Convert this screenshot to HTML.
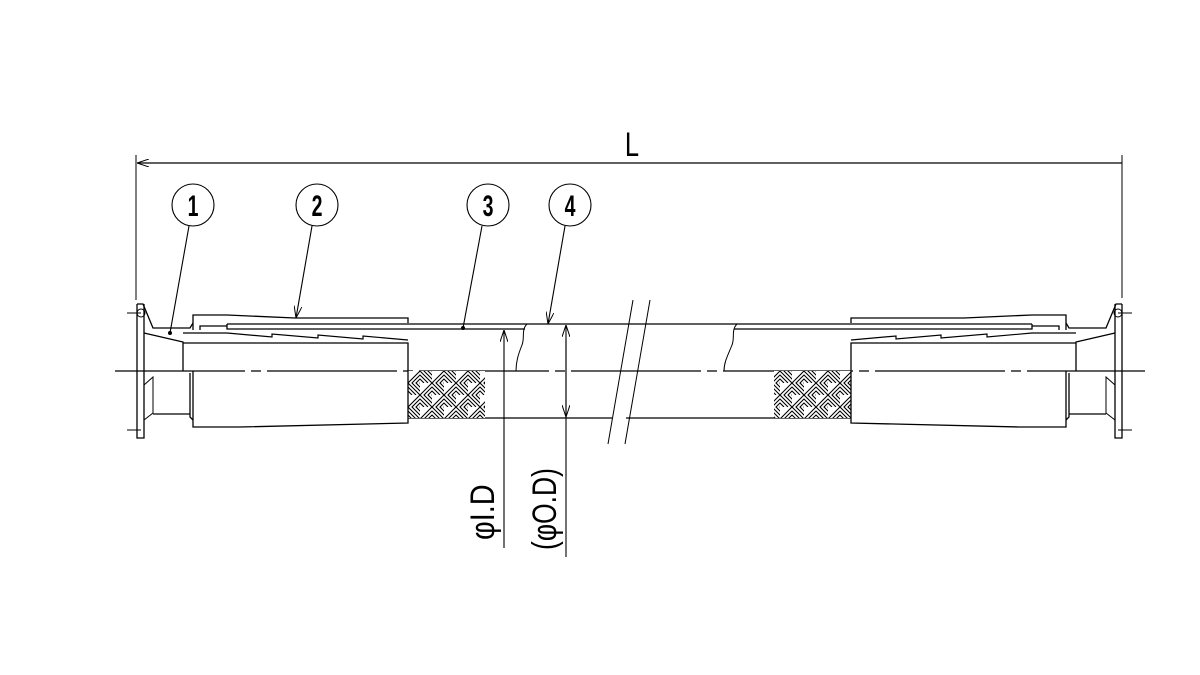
<!DOCTYPE html>
<html><head><meta charset="utf-8"><style>html,body{margin:0;background:#fff}svg{display:block}</style></head>
<body>
<svg width="1200" height="675" viewBox="0 0 1200 675" xmlns="http://www.w3.org/2000/svg">
<defs>
<pattern id="bw" width="24" height="24" patternUnits="userSpaceOnUse" x="408" y="371">
<rect width="24" height="24" fill="#fff"/>
<svg x="0" y="0" width="12" height="12"><path d="M-12 12 L12 -12 M-8 12 L16 -12 M-4 12 L20 -12 M0 12 L24 -12 M4 12 L28 -12 M8 12 L32 -12 M12 12 L36 -12" stroke="#000" stroke-width="1.1" transform="translate(0,12)"/></svg>
<svg x="12" y="0" width="12" height="12"><path d="M-12 0 L12 24 M-8 0 L16 24 M-4 0 L20 24 M0 0 L24 24 M4 0 L28 24 M-16 0 L8 24 M-20 0 L4 24" stroke="#000" stroke-width="1.1" transform="translate(0,-12)"/></svg>
<svg x="0" y="12" width="12" height="12"><path d="M-12 0 L12 24 M-8 0 L16 24 M-4 0 L20 24 M0 0 L24 24 M4 0 L28 24 M-16 0 L8 24 M-20 0 L4 24" stroke="#000" stroke-width="1.1" transform="translate(0,-12)"/></svg>
<svg x="12" y="12" width="12" height="12"><path d="M-12 12 L12 -12 M-8 12 L16 -12 M-4 12 L20 -12 M0 12 L24 -12 M4 12 L28 -12 M8 12 L32 -12 M12 12 L36 -12" stroke="#000" stroke-width="1.1" transform="translate(0,12)"/></svg>
</pattern>
<marker id="ar" viewBox="0 0 12 8" refX="12" refY="4" markerWidth="12" markerHeight="8" orient="auto" markerUnits="userSpaceOnUse"><path d="M0 0 L12 4 L0 8" fill="none" stroke="#000" stroke-width="1"/></marker>
</defs>
<g fill="none" stroke="#000" stroke-width="1.3">
<line x1="136" y1="155" x2="136" y2="300" stroke-width="1"/>
<line x1="1122" y1="155" x2="1122" y2="298" stroke-width="1"/>
<line x1="1122" y1="163" x2="137" y2="163" marker-end="url(#ar)"/>
<line x1="115" y1="371" x2="1145" y2="371" stroke-dasharray="130 6 10 6"/>
<line x1="408" y1="324" x2="851" y2="324"/>
<line x1="408" y1="418" x2="612" y2="418"/>
<line x1="626" y1="418" x2="851" y2="418"/>
<line x1="408" y1="329" x2="525" y2="329"/>
<line x1="734" y1="329" x2="851" y2="329"/>
<path d="M527 324 C521 330,525 338,522 345 C518 355,516 362,516 371" stroke-width="1"/>
<path d="M737 324 C731 330,735 338,732 345 C728 355,724 362,724 371" stroke-width="1"/>
<rect x="408" y="371" width="77" height="47" fill="url(#bw)" stroke="none"/>
<rect x="774" y="371" width="77" height="47" fill="url(#bw)" stroke="none"/>
<line x1="633" y1="300" x2="608" y2="444" stroke-width="1"/>
<line x1="650" y1="300" x2="625" y2="444" stroke-width="1"/>
<g id="fit">
<path d="M137 304 L143 304 L153 328 L190 328 L193 323"/>
<path d="M137 304 L137 438 L144 438 L144 304"/>
<circle cx="141" cy="313" r="4" stroke-width="1"/>
<line x1="127" y1="313" x2="141" y2="313" stroke-width="1"/>
<line x1="127" y1="430" x2="141" y2="430" stroke-width="1"/>
<path d="M144 333 L183 342 L183 371"/>
<path d="M144 385 L153 377 L153 413 L144 420" stroke-width="1"/>
<line x1="153" y1="414" x2="190" y2="414"/>
<path d="M190 373 L190 417 L193 420"/>
<path d="M193 330 L193 315 L227 315 L295 318 L408 318 L408 323"/>
<path d="M200 330 L200 326 L227 326"/>
<path d="M227 324 L408 324 M227 324 L227 329 L408 329"/>
<path d="M183 333 L227 333 L272 337 L272 334 L318 338 L318 335 L363 339 L363 336 L408 340" stroke-width="1.2"/>
<path d="M183 343 L408 343 L408 423 L240 427 L193 427 L193 371"/>
</g>
<use href="#fit" transform="translate(1259,0) scale(-1,1)"/>
<g stroke-width="1.1">
<circle cx="193" cy="205" r="21"/><circle cx="317" cy="205" r="21"/>
<circle cx="488" cy="205" r="21"/><circle cx="570" cy="205" r="21"/>
<line x1="189" y1="226" x2="170" y2="333"/>
<line x1="312" y1="226" x2="296" y2="318" marker-end="url(#ar)"/>
<line x1="482" y1="226" x2="463" y2="328"/>
<line x1="565" y1="226" x2="548" y2="324" marker-end="url(#ar)"/>
<line x1="504" y1="548" x2="504" y2="330" marker-end="url(#ar)"/>
<line x1="566" y1="557" x2="566" y2="325" marker-end="url(#ar)"/>
<line x1="566" y1="340" x2="566" y2="417" marker-end="url(#ar)"/>
</g>
</g>
<circle cx="170" cy="333" r="2" fill="#000"/>
<circle cx="463" cy="328" r="2" fill="#000"/>
<g font-family="Liberation Sans Narrow, Liberation Sans, sans-serif" fill="#000">
<text x="632" y="156" font-size="34" text-anchor="middle" transform="translate(632,0) scale(0.75,1) translate(-632,0)">L</text>
<g font-size="30" font-weight="bold" text-anchor="middle">
<text x="193" y="216" transform="translate(193,0) scale(0.65,1) translate(-193,0)">1</text>
<text x="317" y="216" transform="translate(317,0) scale(0.65,1) translate(-317,0)">2</text>
<text x="488" y="216" transform="translate(488,0) scale(0.65,1) translate(-488,0)">3</text>
<text x="570" y="216" transform="translate(570,0) scale(0.65,1) translate(-570,0)">4</text>
</g>
<text font-size="34" transform="translate(494,540) rotate(-90) scale(0.85,1)">φI.D</text>
<text font-size="34" transform="translate(556,550) rotate(-90) scale(0.78,1)">(φO.D)</text>
</g>
</svg>
</body></html>
